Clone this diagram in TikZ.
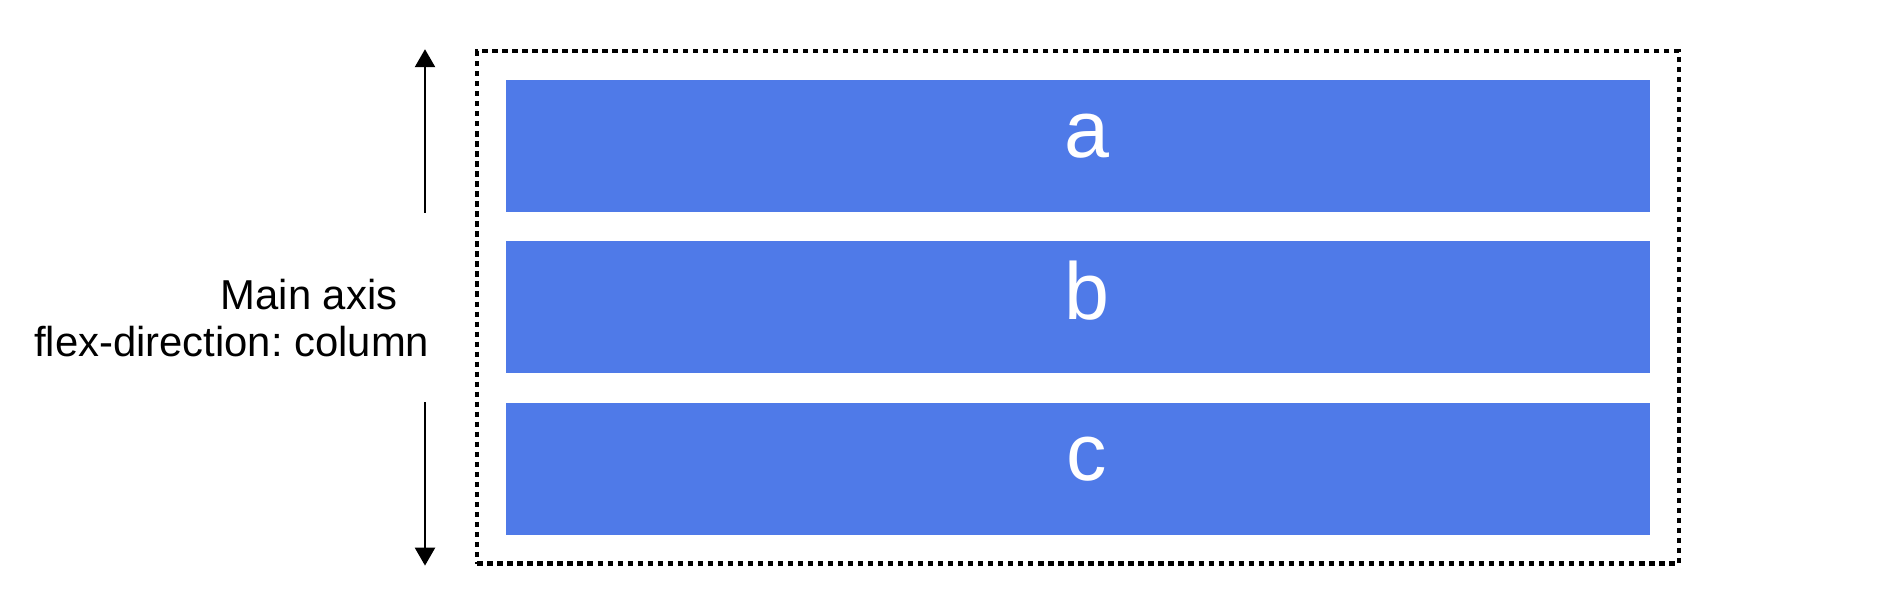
\documentclass[tikz,border=0pt]{standalone}
\usepackage{fontspec}
\setmainfont{Liberation Sans}
\usetikzlibrary{positioning,fit,arrows.meta}
\definecolor{itemblue}{HTML}{4F7AE8}
\frenchspacing
\tikzset{
  item/.style={fill=itemblue, minimum width=114.4mm, minimum height=13.2mm, inner sep=0pt,
    text=white, font=\fontsize{23}{28}\selectfont, text height=6mm, text depth=3.6mm,
    execute at begin node=\hspace*{1.8mm}},
  container/.style={draw, line width=1.2pt, dash pattern=on 1.5pt off 1.35pt, inner sep=2.8mm},
  axis/.style={-{Triangle[length=1.8mm,width=2mm]}, line width=0.7pt},
  label/.style={font=\fontsize{11.9}{14}\selectfont, inner sep=0pt}
}
\begin{document}
\begin{tikzpicture}[x=0.1mm,y=-0.1mm]
\useasboundingbox (0,0) rectangle (1891,612);
\node[item] (a) at (1078,146) {a};
\node[item, below=2.8mm of a] (b) {b};
\node[item, below=2.8mm of b] (c) {c};
\node[container, fit=(a)(b)(c)] (box) {};
\coordinate (axis) at (425,0);
\node[label, anchor=base east] (main) at (398,310) {Main axis};
\node[label, anchor=base east] (dir) at (430,357) {flex-direction: column};
\draw[axis] (a.south -| axis) -- (box.north -| axis);
\draw[axis] (c.north -| axis) -- (box.south -| axis);
\end{tikzpicture}
\end{document}
